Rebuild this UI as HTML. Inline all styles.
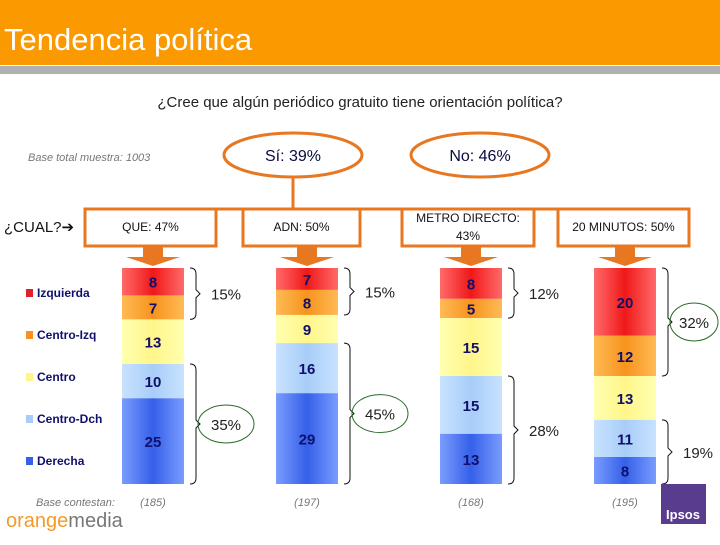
<!DOCTYPE html>
<html><head><meta charset="utf-8"><style>
body{margin:0;width:720px;height:540px;overflow:hidden;background:#fff;font-family:"Liberation Sans",sans-serif}
</style></head><body>
<svg id="s" width="720" height="540" xmlns="http://www.w3.org/2000/svg" font-family="Liberation Sans, DejaVu Sans, sans-serif">
<defs>
<linearGradient id="g0" x1="0" x2="1"><stop offset="0" stop-color="#ff6a6a"/><stop offset="0.5" stop-color="#f01818"/><stop offset="1" stop-color="#ff6a6a"/></linearGradient>
<linearGradient id="g1" x1="0" x2="1"><stop offset="0" stop-color="#ffbb55"/><stop offset="0.5" stop-color="#f7931e"/><stop offset="1" stop-color="#ffbb55"/></linearGradient>
<linearGradient id="g2" x1="0" x2="1"><stop offset="0" stop-color="#ffffb0"/><stop offset="0.5" stop-color="#fff58a"/><stop offset="1" stop-color="#ffffb0"/></linearGradient>
<linearGradient id="g3" x1="0" x2="1"><stop offset="0" stop-color="#c8e2ff"/><stop offset="0.5" stop-color="#a8cdf8"/><stop offset="1" stop-color="#c8e2ff"/></linearGradient>
<linearGradient id="g4" x1="0" x2="1"><stop offset="0" stop-color="#7a9cff"/><stop offset="0.5" stop-color="#3560e8"/><stop offset="1" stop-color="#7a9cff"/></linearGradient>
</defs>
<rect x="0" y="0" width="720" height="65" fill="#fb9900"/>
<rect x="0" y="66" width="720" height="8" fill="#b0b0b0"/>
<text x="4" y="50" font-size="31" fill="#fff">Tendencia política</text>
<text x="360" y="107" font-size="15" fill="#222" text-anchor="middle">¿Cree que algún periódico gratuito tiene orientación política?</text>
<text x="28" y="161" font-size="11" font-style="italic" fill="#777">Base total muestra: 1003</text>
<ellipse cx="293" cy="155" rx="69" ry="22" fill="#fff" stroke="#e87722" stroke-width="3"/>
<text x="293" y="161" font-size="16" text-anchor="middle" fill="#0a0a40">Sí: 39%</text>
<ellipse cx="480" cy="155" rx="69" ry="22" fill="#fff" stroke="#e87722" stroke-width="3"/>
<text x="480" y="161" font-size="16" text-anchor="middle" fill="#0a0a40">No: 46%</text>
<line x1="293" y1="177" x2="293" y2="209" stroke="#e87722" stroke-width="3"/>
<line x1="85" y1="209" x2="689" y2="209" stroke="#e87722" stroke-width="3"/>
<text x="4" y="232" font-size="15" fill="#111">¿CUAL?➔</text>
<g id="legend"></g>
<g id="bars"></g>
<text x="36" y="506" font-size="11" font-style="italic" fill="#777">Base contestan:</text>
<text x="6" y="527" font-size="20" fill="#f39a2b">orange<tspan fill="#777">media</tspan></text>
<rect x="661" y="484" width="45" height="40" fill="#5a3c8e"/>
<text x="683" y="519" font-size="13" font-weight="bold" fill="#fff" text-anchor="middle">Ipsos</text>
</svg>
<script>
const categories=["QUE: 47%","ADN: 50%","METRO DIRECTO: 43%","20 MINUTOS: 50%"];
const izquierda=[8,7,8,20];
const centroIzq=[7,8,5,12];
const centro=[13,9,15,13];
const centroDch=[10,16,15,11];
const derecha=[25,29,13,8];
const topGroup=["15%","15%","12%","32%"];
const bottomGroup=["35%","45%","28%","19%"];
const bases=["(185)","(197)","(168)","(195)"];
const legendLabels=["Izquierda","Centro-Izq","Centro","Centro-Dch","Derecha"];
const NS="http://www.w3.org/2000/svg";
const svg=document.getElementById('s');
function mk(t,a,p){const e=document.createElementNS(NS,t);for(const k in a)e.setAttribute(k,a[k]);(p||svg).appendChild(e);return e;}
const legColors=["#e0202a","#f7931e","#fff58a","#a8cdf8","#3560e8"];
const lg=document.getElementById('legend');
legendLabels.forEach((l,i)=>{const y=297+i*42;
 const r=mk('rect',{x:26,y:y-8,width:7,height:8,fill:legColors[i]},lg);
 
 
 const t=mk('text',{x:37,y:y,'font-size':12,'font-weight':'bold',fill:'#10106a'},lg);t.textContent=l;
 
 
});
const barX=[122,276,440,594],boxes=[[85,131],[243,117],[402,132],[558,131]];
const barTop=268,barH=216,barW=62;
const ovalTop=[false,false,false,true],ovalBot=[true,true,false,false];
categories.forEach((c,i)=>{
 const g=mk('g',{},document.getElementById('bars'));
 
 
 const [bx,bw]=boxes[i];
 mk('rect',{x:bx,y:209,width:bw,height:37,fill:'#fff',stroke:'#e87722','stroke-width':3},g);
 const cx=barX[i]+barW/2;
 if(c.indexOf('METRO')>=0){
  const t1=mk('text',{x:bx+bw/2,y:222,'font-size':12,'text-anchor':'middle',fill:'#111'},g);t1.textContent="METRO DIRECTO:";
  const t2=mk('text',{x:bx+bw/2,y:240,'font-size':12,'text-anchor':'middle',fill:'#111'},g);t2.textContent="43%";
 } else {const t=mk('text',{x:bx+bw/2,y:231,'font-size':12,'text-anchor':'middle',fill:'#111'},g);t.textContent=c;}
 mk('path',{d:`M${cx-10} 247 V257 H${cx-27} L${cx} 266 L${cx+27} 257 H${cx+10} V247 Z`,fill:'#e87722'},g);
 const vals=[izquierda[i],centroIzq[i],centro[i],centroDch[i],derecha[i]];
 const sum=vals.reduce((a,b)=>a+b,0);
 let y=barTop;const ys=[];
 vals.forEach((v,k)=>{const h=v/sum*barH;ys.push([y,h]);
  const r=mk('rect',{x:barX[i],y:y,width:barW,height:h,fill:`url(#g${k})`},g);
  
  
  const t=mk('text',{x:cx,y:y+h/2+6,'font-size':15,'font-weight':'bold','text-anchor':'middle',fill:'#10106a'},g);t.textContent=v;
  y+=h;});
 const bxr=barX[i]+barW+6;
 function brace(y1,y2,label,oval){
  const m=(y1+y2)/2;
  mk('path',{d:`M${bxr} ${y1} Q${bxr+6} ${y1} ${bxr+6} ${y1+6} V${m-4} L${bxr+10} ${m} L${bxr+6} ${m+4} V${y2-6} Q${bxr+6} ${y2} ${bxr} ${y2}`,fill:'none',stroke:'#111','stroke-width':1},g);
  const lx=bxr+(i===3&&oval?32:36);
  if(oval) mk('ellipse',{cx:lx,cy:m,rx:i===3?24:28,ry:19,fill:'none',stroke:'#2a6a2a','stroke-width':1},g);
  const t=mk('text',{x:lx,y:m+6,'font-size':15,'text-anchor':'middle',fill:'#222'},g);t.textContent=label;
 }
 brace(ys[0][0],ys[1][0]+ys[1][1],topGroup[i],ovalTop[i]);
 brace(ys[3][0],ys[4][0]+ys[4][1],bottomGroup[i],ovalBot[i]);
 const b=mk('text',{x:cx,y:506,'font-size':11,'font-style':'italic','text-anchor':'middle',fill:'#777'},g);b.textContent=bases[i];
});
</script>
</body></html>
